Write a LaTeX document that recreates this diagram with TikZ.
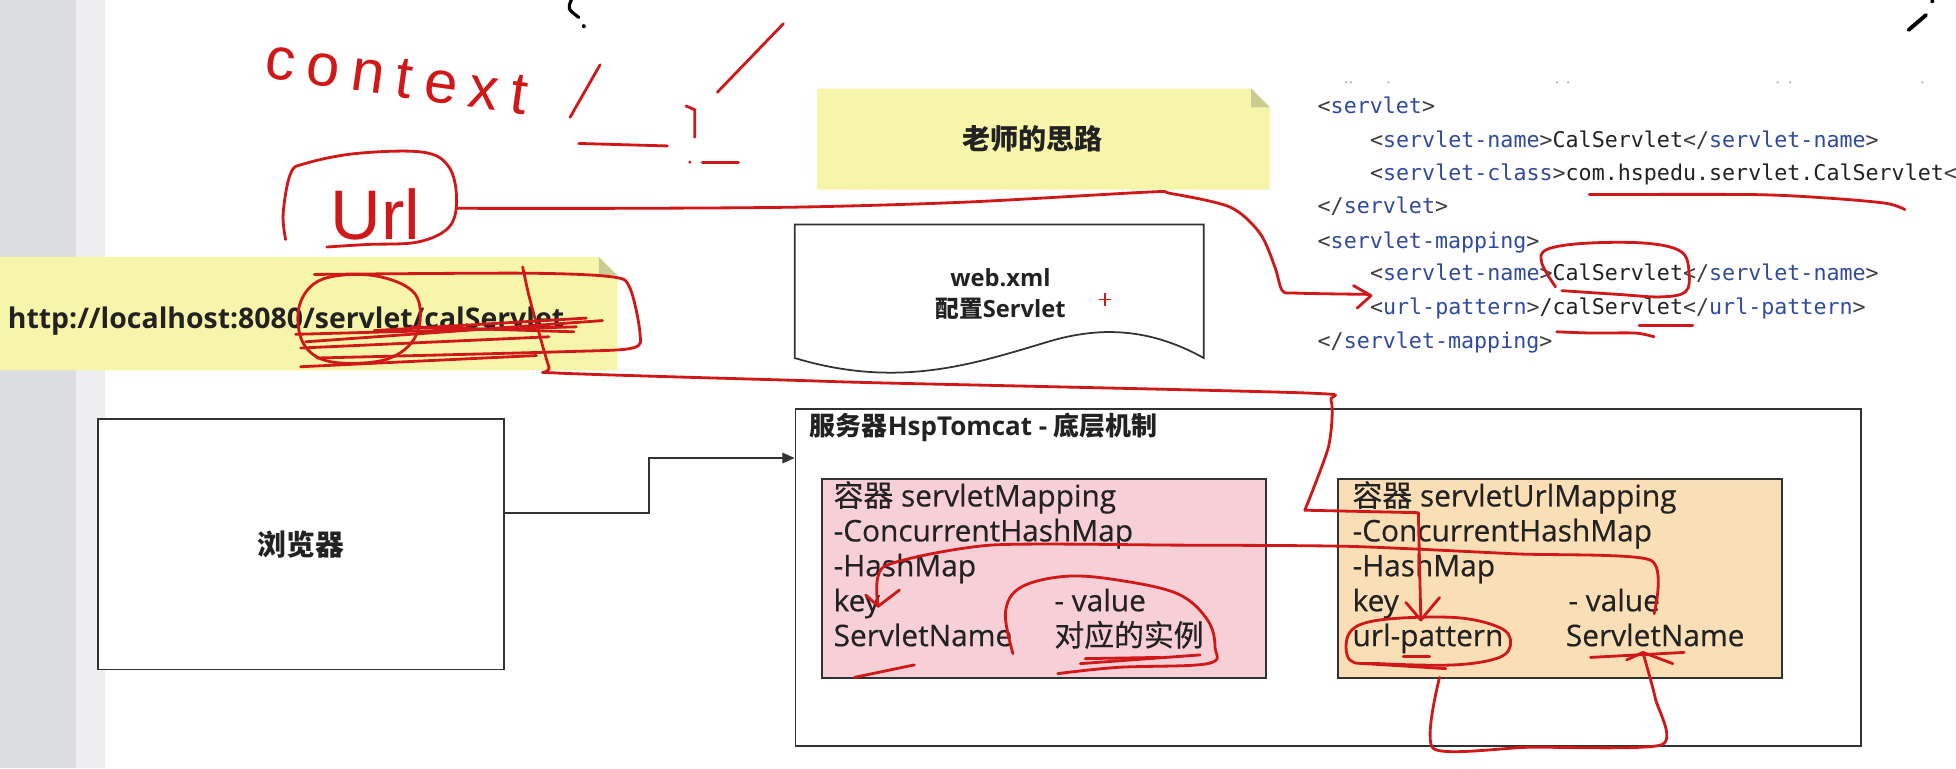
\documentclass[tikz,border=0pt]{standalone}
\usepackage{fontspec}
\setmainfont{Open Sans}
\newfontfamily\cjk{Noto Sans CJK SC}
\newfontfamily\boxfont[FakeBold=0.4]{Open Sans}
\newfontfamily\cjkm[FakeBold=0.4]{Noto Sans CJK SC}
\newfontfamily\codefont{DejaVu Sans Mono}
\newfontfamily\handA[LetterSpace=20]{Liberation Sans}
\newfontfamily\handB{Liberation Sans}
\usetikzlibrary{arrows.meta,calc}
\definecolor{strip}{RGB}{220,221,225}
\definecolor{stripb}{RGB}{238,238,240}
\definecolor{notey}{RGB}{246,245,170}
\definecolor{notefold}{RGB}{204,204,146}
\definecolor{pinkf}{RGB}{247,207,214}
\definecolor{orangef}{RGB}{250,222,182}
\definecolor{ink}{RGB}{208,24,24}
\definecolor{edge}{RGB}{50,50,50}
\definecolor{txt}{RGB}{34,34,34}
\definecolor{tagblue}{RGB}{48,74,160}
\definecolor{brk}{RGB}{60,60,60}
\newcommand\otag[1]{\textcolor{brk}{<}\textcolor{tagblue}{#1}\textcolor{brk}{>}}
\newcommand\ctag[1]{\textcolor{brk}{</}\textcolor{tagblue}{#1}\textcolor{brk}{>}}
\begin{document}
\begin{tikzpicture}[x=0.025cm,y=-0.025cm,
  box/.style={draw=edge, line width=1pt, anchor=north west, inner sep=0pt},
  boxtxt/.style={anchor=base west, inner sep=0pt, text=txt, font=\boxfont\fontsize{17pt}{20pt}\selectfont},
  codeln/.style={anchor=base west, inner sep=0pt, text=txt, font=\codefont\fontsize{12.35pt}{14pt}\selectfont},
  hand/.style={draw=ink, line width=1.6pt, line cap=round, line join=round},
  conn/.style={draw=edge, line width=1pt, -{Triangle[length=7pt,width=6pt]}},
]
\useasboundingbox (0,0) rectangle (1568,616);
\fill[white] (0,0) rectangle (1568,616);
\fill[strip] (0,0) rectangle (61,616);
\fill[stripb] (61,0) rectangle (84,616);

% URL note
\fill[notey] (0,206) -- (480,206) -- (495,221) -- (495,297) -- (0,297) -- cycle;
\fill[notefold] (480,206) -- (480,221) -- (495,221) -- cycle;
\node[anchor=base west, inner sep=0pt, text=txt, font=\bfseries\fontsize{16.2pt}{19pt}\selectfont] (url) at (6,263) {http://localhost:8080/servlet/calServlet};

% teacher note
\fill[notey] (655,71) -- (1003,71) -- (1018,86) -- (1018,152) -- (655,152) -- cycle;
\fill[notefold] (1003,71) -- (1003,86) -- (1018,86) -- cycle;
\node[inner sep=0pt, text=txt, font=\cjk\bfseries\fontsize{16pt}{19pt}\selectfont] (note) at (828,111) {老师的思路};

% web.xml document
\draw[draw=edge, line width=1pt, fill=white] (637,180) -- (965,180) -- (965,287) .. controls (920,262) and (880,262) .. (840,274) .. controls (780,292) and (720,312) .. (637,287) -- cycle;
\node[align=center, inner sep=0pt, text=txt, font=\bfseries\fontsize{13.5pt}{17.8pt}\selectfont] (doc) at (802,236) {web.xml\\{\cjk 配置}Servlet};
\draw[ink, line width=0.9pt] (881,240) -- (891,240) (886,235) -- (886,245);

% code
\foreach \xx/\yy in {1079/66,1083/66,1113/66,1248/66,1257/66,1425/66,1435/66,1541/66}
  \fill[gray!70] (\xx,\yy) circle (0.9);
\node[codeln] (c1) at (1056,91) {\otag{servlet}};
\node[codeln] (c2) at (1098,118) {\otag{servlet-name}CalServlet\ctag{servlet-name}};
\node[codeln] (c3) at (1098,145) {\otag{servlet-class}com.hspedu.servlet.CalServlet\textcolor{brk}{<}};
\node[codeln] (c4) at (1056,171) {\ctag{servlet}};
\node[codeln] (c5) at (1056,199) {\otag{servlet-mapping}};
\node[codeln] (c6) at (1098,225) {\otag{servlet-name}CalServlet\ctag{servlet-name}};
\node[codeln] (c7) at (1098,252) {\otag{url-pattern}/calServlet\ctag{url-pattern}};
\node[codeln] (c8) at (1056,279) {\ctag{servlet-mapping}};

% browser and server
\node[box, minimum width=8.125cm, minimum height=5.025cm, fill=white, text=txt, font=\cjk\bfseries\fontsize{16.4pt}{19pt}\selectfont] (browser) at (78,335) {浏览器};
\node[box, minimum width=21.35cm, minimum height=6.75cm] (server) at (637,327) {};
\node[anchor=base west, inner sep=0pt, text=txt, font=\bfseries\fontsize{14.8pt}{17pt}\selectfont] (title) at (649,349) {{\cjk 服务器}HspTomcat - {\cjk 底层机制}};
\draw[conn] ($(browser.north east)!0.378!(browser.south east)$) -- ++(116,0) |- ($(server.north west)!0.148!(server.south west)$);

\node[box, minimum width=8.9cm, minimum height=4cm, fill=pinkf] (pink) at (658,383) {};
\node[box, minimum width=8.9cm, minimum height=4cm, fill=orangef] (orange) at (1072,383) {};

\node[boxtxt] (pk1) at (668,406) {{\cjkm 容器} servletMapping};
\node[boxtxt] (pk2) at (668,434) {-ConcurrentHashMap};
\node[boxtxt] (pk3) at (668,462) {-HashMap};
\node[boxtxt] (pk4) at (668,490) {key};
\node[boxtxt] (pk5) at (668,518) {ServletName};
\node[boxtxt] (pv1) at (845,490) {- value};
\node[boxtxt] (pv2) at (845,518) {\cjkm 对应的实例};

\node[boxtxt] (ok1) at (1084,406) {{\cjkm 容器} servletUrlMapping};
\node[boxtxt] (ok2) at (1084,434) {-ConcurrentHashMap};
\node[boxtxt] (ok3) at (1084,462) {-HashMap};
\node[boxtxt] (ok4) at (1084,490) {key};
\node[boxtxt] (ok5) at (1084,518) {url-pattern};
\node[boxtxt] (ov1) at (1257,490) {- value};
\node[boxtxt] (ov2) at (1255,518) {ServletName};

% ---------- red handwriting ----------
\node[text=ink, inner sep=0pt, rotate=-8, font=\handA\fontsize{34pt}{36pt}\selectfont] (ctx) at (318,62) {context};
\draw[hand] (457,94) -- (481,52);
\draw[hand] (575,74) -- (628,19);
\draw[hand] (464,115) -- (535,117);
\draw[hand] (550,85) -- (557,88) -- (557,110);
\fill[ink] (553,130) circle (1.3);
\draw[hand] (563,130) -- (592,130);
% black marks
\draw[black, line width=1.8pt, line cap=round] (458,0) .. controls (455,7) .. (464,14);
\fill[black] (468,21) circle (1.6);
\draw[black, line width=2.2pt, line cap=round] (1530,24) -- (1544,12);
\fill[black] (1549,1) circle (1.6);

% Url circle and text
\node[text=ink, inner sep=0pt, font=\handB\fontsize{40pt}{42pt}\selectfont] (urlh) at (301,172) {Url};
\draw[hand] plot[smooth, tension=0.6] coordinates {(229,192) (227,171) (233,139) (245,131) (286,123) (339,122) (360,134) (366,160) (360,182) (335,194) (294,196) (262,198)};
% Url -> url-pattern line
\draw[hand] plot[smooth, tension=0.5] coordinates {(366,167) (500,167) (641,166) (775,162) (920,154) (938,155) (986,166) (1010,187) (1022,214) (1028,233) (1040,235) (1098,236)};
\draw[hand] (1085,229) -- (1099,237) -- (1088,247);

% scribbles on the URL
\draw[hand] plot[smooth cycle, tension=0.6] coordinates {(300,221) (258,224) (240,245) (243,275) (265,290) (310,288) (334,268) (333,236)};
\draw[hand] plot[smooth, tension=0.5] coordinates {(252,220) (421,219) (491,222) (505,231) (513,267) (507,279) (450,282) (254,287)};
\draw[hand] (237,268) -- (462,262);
\draw[hand] (245,274) -- (483,257);
\draw[hand] (241,279) -- (440,270);
\draw[hand] (300,265) -- (470,255);
\draw[hand] (241,294) -- (430,285);
\draw[hand] (330,262) -- (460,266);
% line from URL down to url-pattern
\draw[hand] plot[smooth, tension=0.4] coordinates {(419,214) (425,241) (440,294) (446,299) (641,305) (709,307) (1046,315) (1067,321) (1065,358) (1046,409)};
\draw[hand] (1046,409) -- (1137,411) -- (1139,497);
\draw[hand] (1127,483) -- (1139,497) -- (1154,479);

% code annotations
\draw[hand] plot[smooth, tension=0.5] coordinates {(1274,156) (1406,156) (1468,159) (1512,163) (1527,168)};
\draw[hand] plot[smooth, tension=0.6] coordinates {(1247,230) (1236,211) (1240,200) (1271,195) (1320,195) (1348,202) (1354,219) (1351,234) (1331,238) (1297,236) (1252,233)};
\draw[hand] (1314,261) -- (1357,261);
\draw[hand] plot[smooth, tension=0.5] coordinates {(1248,266) (1277,267) (1311,267) (1326,270)};

% orange -> pink arrow
\draw[hand] plot[smooth, tension=0.4] coordinates {(1326,492) (1323,449) (1215,444) (1082,438) (944,437) (794,437) (709,454) (704,486)};
\draw[hand] (694,477) -- (704,486) -- (721,473);

% pink annotations
\draw[hand] plot[smooth, tension=0.6] coordinates {(812,524) (806,491) (818,471) (854,462) (896,465) (944,476) (968,497) (974,519) (968,532) (896,535) (848,540)};
\draw[hand] (866,532) -- (962,525);
\draw[hand] (870,528) -- (930,527);
\draw[hand] (685,543) -- (733,533);

% orange annotations
\draw[hand] plot[smooth cycle, tension=0.6] coordinates {(1082,529) (1082,507) (1106,497) (1166,495) (1202,503) (1211,515) (1202,527) (1166,533) (1106,532)};
\draw[hand] (1094,532) -- (1159,536);
\draw[hand] (1125,526) -- (1146,526);
\draw[hand] (1275,527) -- (1350,523);
\draw[hand] plot[smooth, tension=0.4] coordinates {(1154,543) (1149,600) (1226,599) (1332,597) (1327,560) (1317,523)};
\draw[hand] (1304,529) -- (1317,523) -- (1341,532);
\end{tikzpicture}
\end{document}
